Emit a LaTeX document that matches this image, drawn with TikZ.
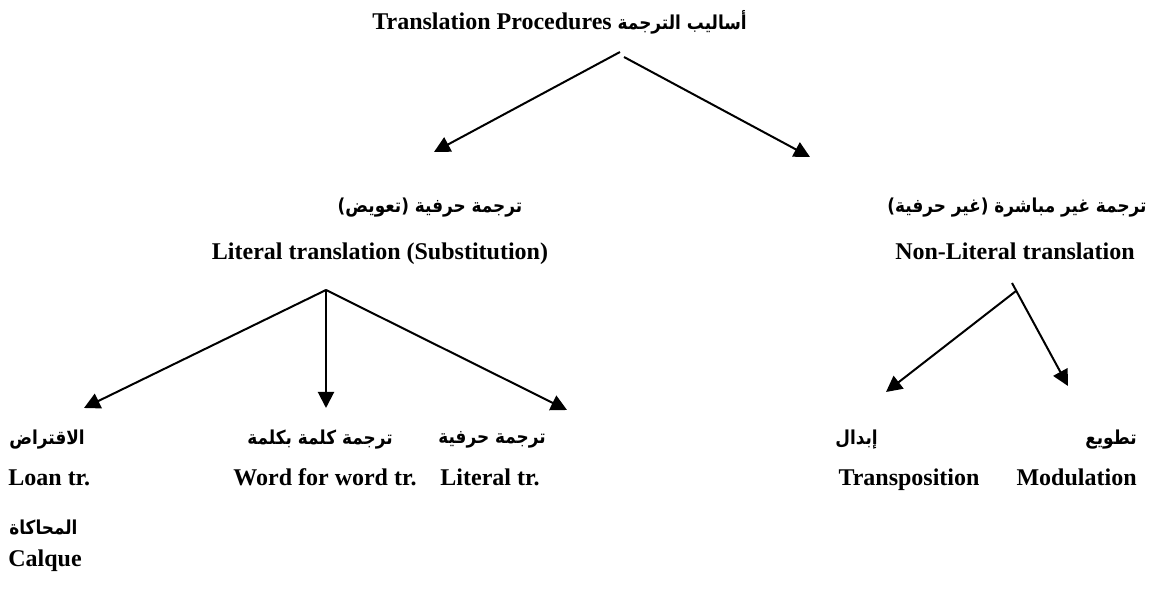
\documentclass[tikz,border=0pt]{standalone}
\usepackage{fontspec}
\setmainfont{Liberation Serif}
\newfontfamily\arabicfont[Script=Arabic,Scale=0.8,FakeStretch=0.88]{DejaVu Sans}
\TeXXeTstate=1
\usetikzlibrary{arrows.meta}
\tikzstyle{en} = [font=\fontsize{12}{14}\selectfont\bfseries, inner sep=0pt]
\tikzstyle{ar} = [font=\fontsize{12}{14}\selectfont\arabicfont\bfseries, inner sep=0pt]
\tikzstyle{arrow} = [line width=1pt, -{Triangle[length=8pt,width=8pt]}]

\begin{document}
\begin{tikzpicture}[x=0.5pt, y=-0.5pt]
\useasboundingbox (0,0) rectangle (1152,592);

\node (titl) [en, anchor=base west] at (372,30) {Translation Procedures {\arabicfont\beginR أساليب الترجمة\endR}};

\node (litar) [ar] at (430,208) {\beginR ترجمة حرفية (تعويض)\endR};
\node (liten) [en, anchor=base] at (380,260) {Literal translation (Substitution)};
\node (nonar) [ar, anchor=east] at (1147,208) {\beginR ترجمة غير مباشرة (غير حرفية)\endR};
\node (nonen) [en, anchor=base east] at (1135,260) {Non-Literal translation};

\node (loanar) [ar, anchor=west] at (9,440) {\beginR الاقتراض\endR};
\node (loanen) [en, anchor=base west] at (8,486) {Loan tr.};
\node (calar) [ar, anchor=west] at (9,527) {\beginR المحاكاة\endR};
\node (calen) [en, anchor=base west] at (8,567) {Calque};
\node (wordar) [ar] at (320,440) {\beginR ترجمة كلمة بكلمة\endR};
\node (worden) [en, anchor=base] at (325,486) {Word for word tr.};
\node (littrar) [ar] at (492,440) {\beginR ترجمة حرفية\endR};
\node (littren) [en, anchor=base] at (490,486) {Literal tr.};

\node (transar) [ar, anchor=west] at (835,440) {\beginR إبدال\endR};
\node (transen) [en, anchor=base] at (909,486) {Transposition};
\node (modar) [ar, anchor=east] at (1137,440) {\beginR تطويع\endR};
\node (moden) [en, anchor=base east] at (1137,486) {Modulation};

% free ends of the arrows
\coordinate (topl) at (620,52);
\coordinate (topr) at (624,57);
\coordinate (littip) at (434,152);
\coordinate (nontip) at (810,157);
\coordinate (litsplit) at (326,290);
\coordinate (loantip) at (84,408);
\coordinate (wordtip) at (326,408);
\coordinate (littrtip) at (567,410);
\coordinate (nonsplitl) at (1016,291);
\coordinate (nonsplitr) at (1012,283);
\coordinate (transtip) at (886,392);
\coordinate (modtip) at (1068,386);

\draw [arrow] (topl) -- (littip);
\draw [arrow] (topr) -- (nontip);
\draw [arrow] (litsplit) -- (loantip);
\draw [arrow] (litsplit) -- (wordtip);
\draw [arrow] (litsplit) -- (littrtip);
\draw [arrow] (nonsplitl) -- (transtip);
\draw [arrow] (nonsplitr) -- (modtip);
\end{tikzpicture}
\end{document}
